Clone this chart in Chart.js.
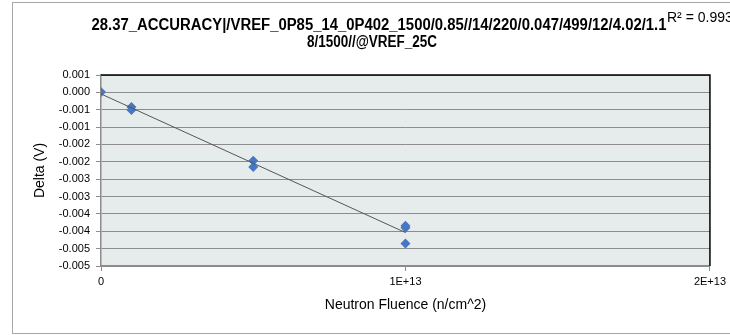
<!DOCTYPE html>
<html>
<head>
<meta charset="utf-8">
<script src="https://cdn.jsdelivr.net/npm/chart.js@4/dist/chart.umd.min.js"></script>
<style>
  body { margin: 0; background: #fff; }
  canvas { display: block; }
</style>
</head>
<body>
<canvas id="deltaChart" width="730" height="335"></canvas>
<script>
// Datos
const fluence = [0, 1e12, 1e12, 5e12, 5e12, 1e13, 1e13, 1e13];
const delta = [0.00001, -0.00042, -0.00051, -0.00197, -0.00215, -0.00384, -0.0039, -0.00435];
const yTickLabels = ['0.001', '0.000', '-0.001', '-0.001', '-0.002', '-0.002', '-0.003', '-0.003', '-0.004', '-0.004', '-0.005', '-0.005'];
const xTickLabels = ['0', '1E+13', '2E+13'];
const titleLines = ['28.37_ACCURACY|/VREF_0P85_14_0P402_1500/0.85//14/220/0.047/499/12/4.02/1.1', '8/1500//@VREF_25C'];
const r2Text = 'R\u00b2 = 0.993';

document.addEventListener("DOMContentLoaded", function () {
    const ctx = document.getElementById('deltaChart');

    // Línea de tendencia (mínimos cuadrados)
    const n = fluence.length;
    const mx = fluence.reduce((a, b) => a + b, 0) / n;
    const my = delta.reduce((a, b) => a + b, 0) / n;
    let sxy = 0, sxx = 0;
    for (let i = 0; i < n; i++) {
        sxy += (fluence[i] - mx) * (delta[i] - my);
        sxx += (fluence[i] - mx) * (fluence[i] - mx);
    }
    const slope = sxy / sxx;
    const intercept = my - slope * mx;
    const xMin = Math.min(...fluence), xMax = Math.max(...fluence);
    const trend = [
        { x: xMin, y: intercept + slope * xMin },
        { x: xMax, y: intercept + slope * xMax }
    ];

    const decor = {
        id: 'decor',
        beforeDraw(chart) {
            const c = chart.ctx, a = chart.chartArea;
            c.save();
            c.fillStyle = '#e6ecec';
            c.fillRect(a.left, a.top, a.right - a.left, a.bottom - a.top);
            c.restore();
        },
        afterDraw(chart) {
            const c = chart.ctx, a = chart.chartArea;
            c.save();
            // borde del área de trazado
            c.strokeStyle = '#000';
            c.lineWidth = 1.5;
            c.beginPath();
            c.moveTo(a.left, a.top);
            c.lineTo(a.right, a.top);
            c.lineTo(a.right, a.bottom);
            c.stroke();
            // borde exterior
            c.strokeStyle = '#a6a6a6';
            c.lineWidth = 1;
            c.strokeRect(12.5, 2.5, 740, 331);
            // título
            c.fillStyle = '#000';
            c.textAlign = 'center';
            c.textBaseline = 'middle';
            c.font = 'bold 16px "Liberation Sans"';
            c.fillText(titleLines[0], 379, 26, 575);
            c.fillText(titleLines[1], 372, 43, 130);
            // R²
            c.textAlign = 'left';
            c.font = '14px "Liberation Sans"';
            c.fillText(r2Text, 667, 18, 68);
            c.restore();
        }
    };

    new Chart(ctx.getContext('2d'), {
        data: {
            datasets: [{
                type: 'line',
                data: trend,
                borderColor: '#555',
                borderWidth: 1,
                pointRadius: 0,
                fill: false
            }, {
                type: 'scatter',
                data: fluence.map((x, i) => ({ x: x, y: delta[i] })),
                pointStyle: 'rectRot',
                pointRadius: 5,
                backgroundColor: '#4677c4',
                borderColor: '#4677c4',
                borderWidth: 0
            }]
        },
        options: {
            responsive: false,
            animation: false,
            layout: { padding: { left: 12, top: 75, right: 18, bottom: 20 } },
            plugins: {
                legend: { display: false },
                tooltip: { enabled: false },
                title: { display: false }
            },
            scales: {
                x: {
                    type: 'linear',
                    min: 0,
                    max: 2e13,
                    afterFit: function (s) { s.height = 49; },
                    ticks: {
                        stepSize: 1e13,
                        padding: 4,
                        color: '#000',
                        font: { family: 'Liberation Sans', size: 11 },
                        callback: function (v, i) { return xTickLabels[i]; }
                    },
                    grid: { drawOnChartArea: false, tickLength: 5, color: '#8c8c8c' },
                    border: { color: '#8c8c8c', width: 1.5 },
                    title: {
                        display: true,
                        text: 'Neutron Fluence (n/cm^2)',
                        color: '#000',
                        font: { family: 'Liberation Sans', size: 14 },
                        padding: { top: 0, bottom: 1 }
                    }
                },
                y: {
                    type: 'linear',
                    min: -0.005,
                    max: 0.0005,
                    afterFit: function (s) { s.width = 89; },
                    ticks: {
                        stepSize: 0.0005,
                        padding: 6,
                        color: '#000',
                        font: { family: 'Liberation Sans', size: 11 },
                        callback: function (v, i) { return yTickLabels[yTickLabels.length - 1 - i]; }
                    },
                    grid: { color: '#8c8c8c', tickLength: 5, lineWidth: 1 },
                    border: { color: '#8c8c8c', width: 1.5 },
                    title: {
                        display: true,
                        text: 'Delta (V)',
                        color: '#000',
                        font: { family: 'Liberation Sans', size: 14 },
                        padding: { top: 20, bottom: 0 }
                    }
                }
            }
        },
        plugins: [decor]
    });
});
</script>
</body>
</html>
